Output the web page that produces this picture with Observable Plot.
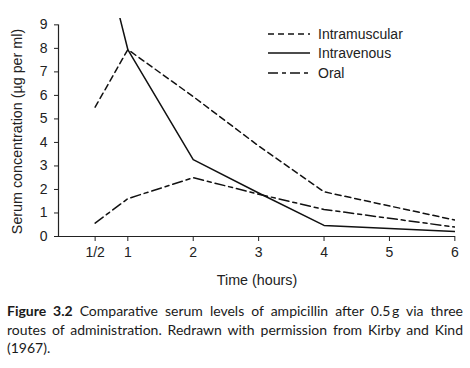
<!DOCTYPE html>
<html>
<head>
<meta charset="utf-8">
<script src="https://cdn.jsdelivr.net/npm/d3@7"></script>
<script src="https://cdn.jsdelivr.net/npm/@observablehq/plot@0.6"></script>
<style>
  html, body { margin: 0; padding: 0; background: #fff; }
  #wrap { position: relative; width: 470px; }
  #legend { position: absolute; left: 268px; top: 24px; font: 14px "Liberation Sans", Arial, sans-serif; color: #222; }
  #legend .row { display: flex; align-items: center; height: 19.5px; }
  #legend svg { margin-right: 8px; }
  #caption { margin: 4px 0 0 7px; width: 456px; font: 14px Lato, "Open Sans", sans-serif; color: #1a1a1a; line-height: 18.5px; }
  #caption .l { text-align: justify; text-align-last: justify; white-space: nowrap; }
  #caption .last { text-align: left; }
  #chart g[aria-label="x-axis label"], #chart g[aria-label="y-axis label"] { font-size: 14.3px; }
</style>
</head>
<body>
<div id="wrap">
  <div id="chart"></div>
  <div id="legend"></div>
  <div id="caption"></div>
</div>
<script>
// ---- data ----
const times = [0.5, 1, 2, 3, 4, 6];
const intramuscular = [5.5, 7.95, 5.95, 3.85, 1.9, 0.7];
const intravenous = [13.5, 7.95, 3.27, 1.85, 0.47, 0.21];
const oral = [0.57, 1.61, 2.5, 1.8, 1.15, 0.4];

const seriesNames = ["Intramuscular", "Intravenous", "Oral"];
const seriesDash = ["6,4", null, "10,4,4,4"];

const xTicks = [0.5, 1, 2, 3, 4, 5, 6];
const xTickLabels = ["1/2", "1", "2", "3", "4", "5", "6"];
const yTicks = [0, 1, 2, 3, 4, 5, 6, 7, 8, 9];

const xLabel = "Time (hours)";
const yLabel = "Serum concentration (µg per ml)";
const captionLines = [
  ["Figure 3.2", " Comparative serum levels of ampicillin after 0.5\u2009g via three"],
  [null, "routes of administration. Redrawn with permission from Kirby and Kind"],
  [null, "(1967)."]
];

// ---- build table ----
const seriesValues = [intramuscular, intravenous, oral];
const rows = [];
seriesNames.forEach((name, s) => {
  times.forEach((t, i) => rows.push({series: name, time: t, value: seriesValues[s][i]}));
});

const xDomain = [-0.06, 6.01];
const tickLabelMap = new Map(xTicks.map((t, i) => [t, xTickLabels[i]]));
const ink = "#222";

const chart = Plot.plot({
  width: 470,
  height: 298,
  marginLeft: 58,
  marginRight: 15,
  marginTop: 18,
  marginBottom: 62,
  style: {fontFamily: "'Liberation Sans', Arial, sans-serif", fontSize: "14px", color: ink, background: "#fff"},
  x: {domain: xDomain},
  y: {domain: [0, 9.27]},
  marks: [
    ...seriesNames.map((name, s) => Plot.line(rows.filter(d => d.series === name), {
      x: "time", y: "value", stroke: "#111", strokeWidth: 1.5,
      strokeDasharray: seriesDash[s], clip: true
    })),
    Plot.ruleY([0], {stroke: ink, strokeWidth: 1.2}),
    Plot.ruleX([xDomain[0]], {y1: yTicks[0], y2: yTicks[yTicks.length - 1], stroke: ink, strokeWidth: 1.2}),
    Plot.axisX(xTicks, {
      tickSize: 5, tickPadding: 6, fontSize: 14, stroke: ink,
      tickFormat: d => tickLabelMap.get(d),
      label: xLabel, labelAnchor: "center", labelArrow: "none", labelOffset: 48
    }),
    Plot.axisY(yTicks, {
      tickSize: 4, tickPadding: 7, fontSize: 14, stroke: ink,
      label: yLabel, labelAnchor: "center", labelArrow: "none", labelOffset: 47
    })
  ]
});
document.getElementById("chart").appendChild(chart);
// shift the y label centre slightly down, as in the reference
const yl = chart.querySelector('g[aria-label="y-axis label"]');
if (yl) yl.setAttribute("transform", (yl.getAttribute("transform") || "") + " translate(0,4)");

// ---- legend ----
const legend = document.getElementById("legend");
seriesNames.forEach((name, s) => {
  const row = document.createElement("div");
  row.className = "row";
  const dash = seriesDash[s] ? ` stroke-dasharray="${seriesDash[s]}"` : "";
  row.innerHTML = `<svg width="42" height="10"><line x1="0" y1="5" x2="42" y2="5" stroke="#111" stroke-width="1.6"${dash}/></svg><span>${name}</span>`;
  legend.appendChild(row);
});

// ---- caption ----
const cap = document.getElementById("caption");
captionLines.forEach((ln, i) => {
  const div = document.createElement("div");
  div.className = i === captionLines.length - 1 ? "last" : "l";
  if (ln[0]) { const b = document.createElement("b"); b.textContent = ln[0]; div.appendChild(b); }
  div.appendChild(document.createTextNode(ln[1]));
  cap.appendChild(div);
});
</script>
</body>
</html>
